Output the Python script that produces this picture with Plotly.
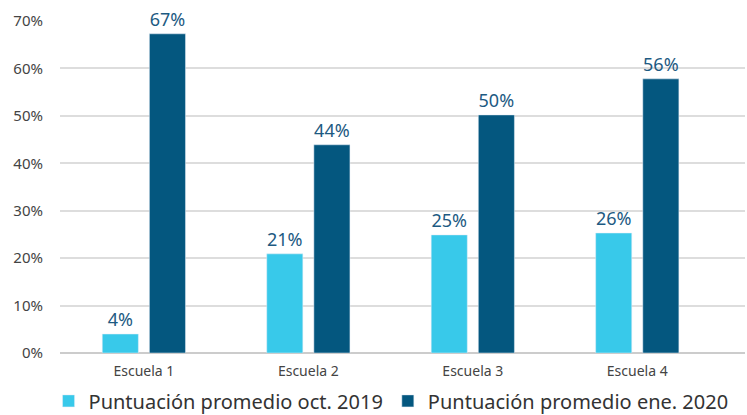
import plotly.graph_objects as go

categories = ["Escuela 1", "Escuela 2", "Escuela 3", "Escuela 4"]
oct_2019 = [4.0, 20.9, 24.9, 25.3]
ene_2020 = [67.3, 43.9, 50.2, 57.8]
oct_labels = ["4%", "21%", "25%", "26%"]
ene_labels = ["67%", "44%", "50%", "56%"]
y_ticks = [0, 10, 20, 30, 40, 50, 60, 70]
y_tick_labels = ["0%", "10%", "20%", "30%", "40%", "50%", "60%", "70%"]

FONT = "Noto Sans"
LABEL_COLOR = "#1d5a82"

fig = go.Figure()
fig.add_trace(go.Bar(
    name="Puntuación promedio oct. 2019", x=categories, y=oct_2019,
    marker_color="#38c9ea", text=oct_labels, textposition="outside",
    textfont=dict(size=18, color=LABEL_COLOR, family=FONT), cliponaxis=False,
))
fig.add_trace(go.Bar(
    name="Puntuación promedio ene. 2020", x=categories, y=ene_2020,
    marker_color="#04577f", text=ene_labels, textposition="outside",
    textfont=dict(size=18, color=LABEL_COLOR, family=FONT), cliponaxis=False,
))

fig.update_layout(
    width=747, height=415,
    margin=dict(l=60, r=2, t=21, b=62, autoexpand=False),
    paper_bgcolor="white", plot_bgcolor="white",
    barmode="group", bargap=0.427, bargroupgap=0.234,
    font=dict(family=FONT, color="#444"),
    showlegend=True,
    legend=dict(orientation="h", x=0.065, xref="container", xanchor="left",
                y=0.081, yref="container", yanchor="top",
                font=dict(size=20, color="#333", family=FONT),
                traceorder="normal"),
)
fig.update_xaxes(type="category", range=[-0.51, 3.655], showgrid=False,
                 showline=False, ticks="", tickfont=dict(size=14, color="#444"),
                 ticklabelstandoff=8)
fig.update_yaxes(range=[0, 70], tickvals=y_ticks, ticktext=y_tick_labels,
                 showgrid=True, gridcolor="#dddddd", gridwidth=1.5,
                 zeroline=True, zerolinecolor="#cccccc", zerolinewidth=1.5,
                 tickfont=dict(size=15, color="#444"), ticklabelstandoff=16)

fig.write_html("out.html", config={"displayModeBar": False},
               post_script="document.body.style.margin='0';document.body.style.overflow='hidden';")
